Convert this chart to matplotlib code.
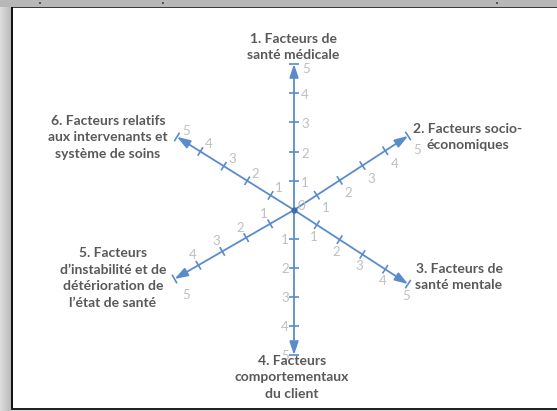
import matplotlib
matplotlib.use("Agg")
import matplotlib.pyplot as plt
import numpy as np
from matplotlib.patches import Rectangle

# ---- data ----
categories = [
    "1. Facteurs de\nsanté médicale",
    "2. Facteurs socio-\néconomiques",
    "3. Facteurs de\nsanté mentale",
    "4. Facteurs\ncomportementaux\ndu client",
    "5. Facteurs\nd’instabilité et de\ndétérioration de\nl’état de santé",
    "6. Facteurs relatifs\naux intervenants et\nsystème de soins",
]
tick_values = [1, 2, 3, 4, 5]
tick_labels = ["1", "2", "3", "4", "5"]
center_label = "0"
max_value = 5

# ---- style / layout ----
W, H = 557, 411
CX, CY = 294, 210
angles = [90, 33, -33, -90, -150, 148]          # degrees, math convention
units = [29.2, 27.2, 27.2, 29.0, 27.6, 27.6]     # px per unit along each axis
lab_off = [(11, 2), (9, 13), (-3, 12), (-9, 1), (-6, -10), (8, -7)]
lab_off5 = [(12, 5), (9, 14), (-2, 12), (-9, 1), (12, 16), (9, -6)]
cat_pos = [(293, 47), (468, 137), (459, 277), (292, 377), (113, 278), (108, 137)]
AX_COL = "#5a8ccc"
TICK_COL = "#bfbfbf"
CAT_COL = "#595959"

fig = plt.figure(figsize=(W / 100, H / 100), dpi=100)
ax = fig.add_axes([0, 0, 1, 1])
ax.set_xlim(0, W)
ax.set_ylim(H, 0)
ax.axis("off")

# frame / page decoration
grad = np.linspace(0.86, 0.72, 12).reshape(1, -1)
ax.imshow(np.repeat(grad, 2, axis=0), cmap="gray", vmin=0, vmax=1,
          extent=(0, 11.5, H, 0), aspect="auto", zorder=0)
ax.add_patch(Rectangle((0, 0), W, 6.8, color="#b7b7b7", lw=0, zorder=1))
ax.add_patch(Rectangle((11.5, 6.8), W, 1.4, color="#3c3c3c", lw=0, zorder=2))
ax.add_patch(Rectangle((11, 6.8), 2.4, 402, color="#111111", lw=0, zorder=2))
ax.add_patch(Rectangle((11, 407.6), W, 2.0, color="#222222", lw=0, zorder=2))
ax.add_patch(Rectangle((11, 409.6), W, 1.4, color="#d9d9d9", lw=0, zorder=2))
for x in (40, 163, 497):
    ax.add_patch(Rectangle((x - 1, 2), 2, 2.5, color="#555555", lw=0, zorder=2))

for i, (a, u) in enumerate(zip(angles, units)):
    dx, dy = np.cos(np.radians(a)), -np.sin(np.radians(a))
    px, py = -dy, dx
    tip = (CX + dx * u * max_value, CY + dy * u * max_value)
    ax.annotate("", xy=tip, xytext=(CX, CY),
                arrowprops=dict(arrowstyle="-|>,head_length=0.8,head_width=0.27",
                                color=AX_COL, lw=1.3, shrinkA=0, shrinkB=0,
                                mutation_scale=10), zorder=4)
    for v, t in zip(tick_values, tick_labels):
        x0, y0 = CX + dx * u * v, CY + dy * u * v
        ax.plot([x0 - px * 5, x0 + px * 5], [y0 - py * 5, y0 + py * 5],
                color=AX_COL, lw=1.2, zorder=4, solid_capstyle="butt")
        ox, oy = lab_off5[i] if v == max_value else lab_off[i]
        ax.text(x0 + ox, y0 + oy, t, color=TICK_COL, fontsize=9.5,
                family="Lato", ha="center", va="center", zorder=5)
    ax.text(cat_pos[i][0], cat_pos[i][1], categories[i], color=CAT_COL,
            fontsize=10, family="Lato", weight="bold", ha="center",
            va="center", linespacing=1.45, zorder=6)

ax.plot([CX], [CY], "o", color="#3d6db0", ms=3.5, zorder=5)
ax.text(CX + 7, CY - 4, center_label, color=TICK_COL, fontsize=9.5,
        family="Lato", ha="center", va="center", zorder=5)

fig.savefig("out.png", dpi=100)
